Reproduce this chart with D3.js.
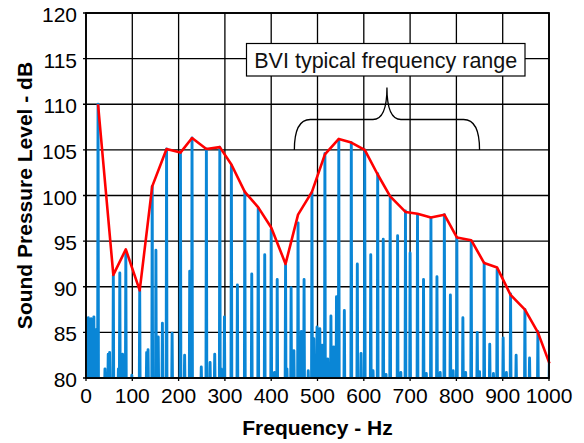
<!DOCTYPE html>
<html><head><meta charset="utf-8">
<script src="https://cdn.jsdelivr.net/npm/d3@7"></script>
<style>body{margin:0;background:#fff} svg{display:block} text{font-family:"Liberation Sans",Arial,sans-serif}</style>
</head><body><svg id="c" width="584" height="443"></svg>
<script>
// Harmonic (tall) peaks
const harmonicHz = [26,59,86,116,143,174,204,229,260,289,314,343,372,400,431,458,488,516,546,573,602,630,657,690,716,745,774,801,832,860,888,917,948,976,1001];
const envelopeDb = [110.0,91.3,94.1,89.6,101.0,105.1,104.7,106.3,105.1,105.3,103.4,100.4,98.7,96.5,92.5,97.9,100.4,104.5,106.2,105.8,105.0,102.3,99.9,98.2,98.0,97.6,97.9,95.4,95.1,92.6,92.1,89.1,87.5,85.0,81.6];
const harmonicDb = [110.0,91.3,93.6,89.6,101.0,105.1,104.7,106.3,105.1,105.3,103.3,100.4,98.6,96.3,92.4,97.0,100.3,104.6,106.1,105.8,105.0,102.4,99.9,98.3,97.9,97.5,97.9,95.4,95.0,92.6,91.9,89.2,87.5,85.1,83.7];
// Other spectral spikes
const sideHz = [1,3,5,7,9,11,13,15,17,19,21.5,23,41,48,51,70,73,79,99,131,134,151,156,165,186,213,224,249,268,278,292,299,327,358,386,407,413,434,443,449,465,471,480,492,499,505,510,522,529,535,541,558,586,594,615,620,642,648,673,680,700,729,735,758,765,787,793,814,820,845,850,872,880,901,908,929,958];
const sideDb = [86.4,84.2,86.6,84.6,85.2,86.5,84.2,85.6,86.7,84.0,85.3,83.5,81.0,82.6,82.8,81.0,91.5,82.6,80.3,82.8,83.1,94.0,84.5,86.0,84.9,82.5,91.7,81.2,81.7,82.6,81.0,86.7,90.2,91.4,93.5,80.6,90.8,81.0,89.9,83.0,85.1,90.8,80.8,84.3,85.6,85.4,83.6,82.1,86.8,83.4,88.9,87.4,92.5,82.7,93.5,80.8,95.2,80.4,95.6,80.6,93.7,90.8,80.5,91.1,80.6,89.1,80.8,86.6,80.6,85.0,80.7,83.7,80.5,84.4,80.6,82.5,82.2];
const xTickValues = [0,100,200,300,400,500,600,700,800,900,1000];
const yTickValues = [80,85,90,95,100,105,110,115,120];
const xTitle = "Frequency - Hz";
const yTitle = "Sound Pressure Level - dB";
const annotationLabel = "BVI typical frequency range";
const rangeHz = [450, 850];

const svg = d3.select("#c");
const x = d3.scaleLinear().domain([0,1000]).range([86,549]);
const y = d3.scaleLinear().domain([80,120]).range([378,13]);
const X0 = x(0), X1 = x(1000), Y0 = y(80), Y1 = y(120);

svg.append("defs").append("clipPath").attr("id","clip")
  .append("rect").attr("x",X0).attr("y",Y1).attr("width",X1-X0).attr("height",Y0-Y1);

// grid
const g = svg.append("g");
g.selectAll(".vx").data(xTickValues).join("line")
  .attr("x1",d=>x(d)).attr("x2",d=>x(d)).attr("y1",Y1).attr("y2",Y0+3)
  .attr("stroke","#000").attr("stroke-width",1.3);
g.selectAll(".hy").data(yTickValues).join("line")
  .attr("x1",X0-3).attr("x2",X1).attr("y1",d=>y(d)).attr("y2",d=>y(d))
  .attr("stroke","#000").attr("stroke-width",1.3);

// blue spectrum
const spikes = harmonicHz.map((f,i)=>({f, db:harmonicDb[i]}))
  .concat(sideHz.map((f,i)=>({f, db:sideDb[i]})))
  .sort((a,b)=>a.f-b.f);
const pts = [];
spikes.forEach(s=>{ pts.push([s.f-0.9,79],[s.f,s.db],[s.f+0.9,79]); });
const line = d3.line().x(d=>x(d[0])).y(d=>y(d[1]));
svg.append("path").attr("clip-path","url(#clip)").attr("d",line(pts))
  .attr("fill","none").attr("stroke","#0a86d6").attr("stroke-width",2.9).attr("stroke-linejoin","round");

// red envelope
svg.append("path").attr("d",line(harmonicHz.map((f,i)=>[f,envelopeDb[i]])))
  .attr("fill","none").attr("stroke","#ff0000").attr("stroke-width",2.6).attr("stroke-linejoin","round");

// frame
svg.append("rect").attr("x",X0).attr("y",Y1).attr("width",X1-X0).attr("height",Y0-Y1)
  .attr("fill","none").attr("stroke","#000").attr("stroke-width",1.8);

// tick labels
svg.selectAll(".xl").data(xTickValues).join("text")
  .attr("x",d=>x(d)).attr("y",403).attr("text-anchor","middle")
  .attr("font-size",21).attr("fill","#000").text(d=>d);
svg.selectAll(".yl").data(yTickValues).join("text")
  .attr("x",77).attr("y",d=>y(d)+9).attr("text-anchor","end")
  .attr("font-size",21).attr("fill","#000").text(d=>d);

// titles
svg.append("text").attr("x",317.5).attr("y",435).attr("text-anchor","middle")
  .attr("font-size",21).attr("font-weight","bold").text(xTitle);
svg.append("text").attr("transform","translate(32,"+((Y0+Y1)/2)+") rotate(-90)")
  .attr("text-anchor","middle").attr("font-size",21).attr("font-weight","bold").text(yTitle);

// annotation box
const cx = x((rangeHz[0]+rangeHz[1])/2);
const bx0 = 246.5, bx1 = 525, by0 = 43.5, by1 = 76;
svg.append("rect").attr("x",bx0).attr("y",by0).attr("width",bx1-bx0).attr("height",by1-by0)
  .attr("fill","#fff").attr("stroke","#000").attr("stroke-width",1.2);
svg.append("text").attr("x",(bx0+bx1)/2).attr("y",67.5).attr("text-anchor","middle")
  .attr("font-size",21.5).attr("fill","#111").text(annotationLabel);

// brace
const xL = x(rangeHz[0]), xR = x(rangeHz[1]);
const yB = 150, yM = 119.5, yT = 87.5;
const p = d3.path();
p.moveTo(xL,yB); p.quadraticCurveTo(xL,yM,xL+16,yM);
p.lineTo(cx-14,yM); p.quadraticCurveTo(cx,yM,cx,yT);
p.quadraticCurveTo(cx,yM,cx+14,yM); p.lineTo(xR-16,yM);
p.quadraticCurveTo(xR,yM,xR,yB);
svg.append("path").attr("d",p.toString()).attr("fill","none").attr("stroke","#000").attr("stroke-width",1.3);
</script></body></html>
